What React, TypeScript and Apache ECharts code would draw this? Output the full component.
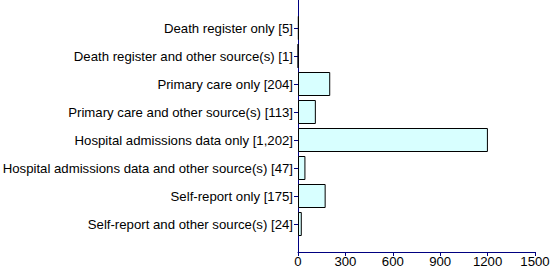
import React, { useEffect, useRef } from "react";
import * as echarts from "echarts";

const categories = [
  "Death register only [5]",
  "Death register and other source(s) [1]",
  "Primary care only [204]",
  "Primary care and other source(s) [113]",
  "Hospital admissions data only [1,202]",
  "Hospital admissions data and other source(s) [47]",
  "Self-report only [175]",
  "Self-report and other source(s) [24]",
];
const values = [5, 1, 204, 113, 1202, 47, 175, 24];
const xTicks = [0, 300, 600, 900, 1200, 1500];

export default function App() {
  const ref = useRef<HTMLDivElement>(null);
  useEffect(() => {
    if (!ref.current) return;
    const chart = echarts.init(ref.current, null, { renderer: "svg" });
    const cats = ["", ...categories, ""];
    const data: any[] = [null, ...values, null];
    const axisColor = "#000080";
    chart.setOption({
      animation: false,
      textStyle: { fontFamily: "Liberation Sans, Arial, sans-serif" },
      grid: {
        left: 298,
        right: 15,
        top: 0,
        bottom: 24,
        containLabel: false,
        outerBoundsMode: "none",
      },
      xAxis: {
        type: "value",
        min: xTicks[0],
        max: xTicks[xTicks.length - 1],
        interval: 300,
        axisLine: { show: true, lineStyle: { color: axisColor, width: 1 } },
        axisTick: { show: true, length: 4, lineStyle: { color: axisColor } },
        axisLabel: {
          color: "#000",
          fontSize: 13.2,
          margin: 3,
          formatter: (v: number) => String(v),
        },
        splitLine: { show: false },
      },
      yAxis: {
        type: "category",
        data: cats,
        inverse: true,
        boundaryGap: false,
        axisLine: { show: true, lineStyle: { color: axisColor, width: 1 } },
        axisTick: {
          show: true,
          length: 4,
          lineStyle: { color: axisColor },
          interval: (i: number) => i > 0 && i < cats.length - 1,
        },
        axisLabel: {
          color: "#000",
          fontSize: 13.2,
          margin: 5,
          interval: 0,
        },
      },
      series: [
        {
          type: "bar",
          data,
          barWidth: 24,
          itemStyle: { color: "#d8ffff", borderColor: "#000", borderWidth: 1 },
        },
      ],
    });
    return () => chart.dispose();
  }, []);
  return (
    <div
      ref={ref}
      style={{ position: "absolute", left: 0, top: 0, width: 550, height: 276, background: "#fff" }}
    />
  );
}
